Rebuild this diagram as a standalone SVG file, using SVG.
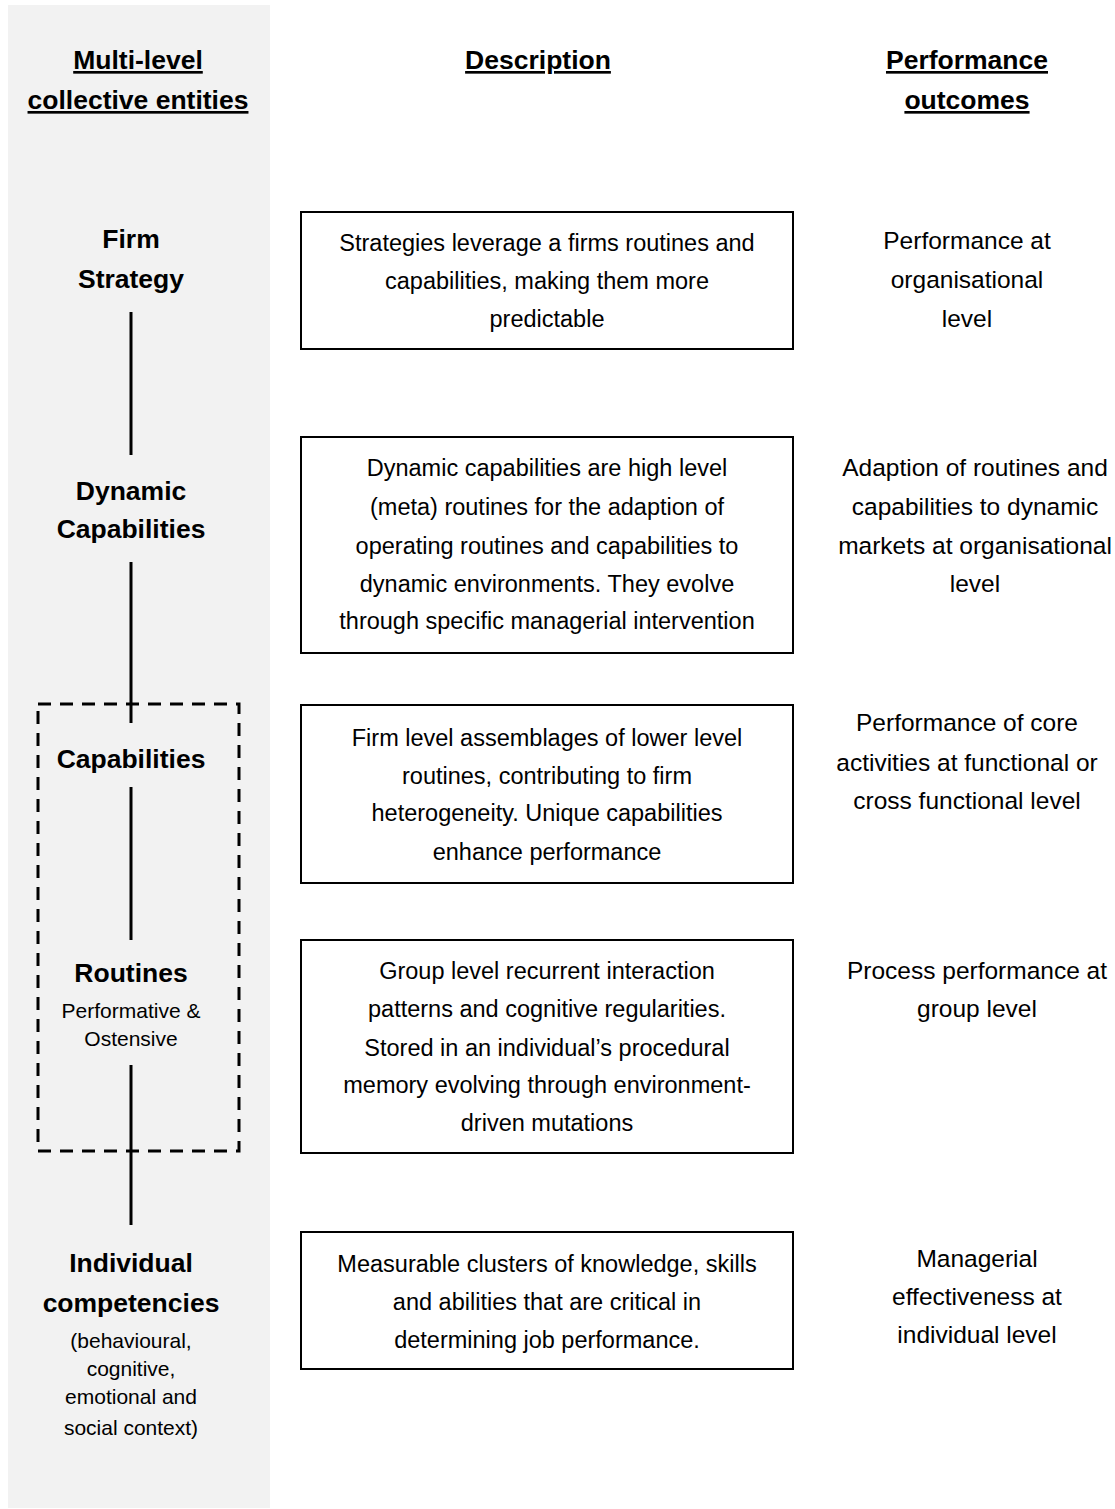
<svg xmlns="http://www.w3.org/2000/svg" width="1115" height="1509" viewBox="0 0 1115 1509">
<style>
text{font-family:"Liberation Sans",Arial,sans-serif;fill:#000;text-anchor:middle}
.h{font-size:26.5px;font-weight:bold;text-decoration:underline}
.l{font-size:26.5px;font-weight:bold}
.s{font-size:21px}
.d{font-size:23.5px}
.r{font-size:24.5px}
.box{fill:#fff;stroke:#000;stroke-width:2}
.con{stroke:#000;stroke-width:3;fill:none}
</style>
<rect x="8" y="5" width="262" height="1503" fill="#f2f2f2"/>
<g id="headers">
<text class="h" x="138" y="69">Multi-level</text>
<text class="h" x="138" y="109">collective entities</text>
<text class="h" x="538" y="69">Description</text>
<text class="h" x="967" y="69">Performance</text>
<text class="h" x="967" y="109">outcomes</text>
</g>
<g id="connectors">
<line class="con" x1="131" y1="312" x2="131" y2="455"/>
<line class="con" x1="131" y1="562" x2="131" y2="723"/>
<line class="con" x1="131" y1="787" x2="131" y2="940"/>
<line class="con" x1="131" y1="1065" x2="131" y2="1225"/>
<rect x="38" y="704" width="201" height="447" fill="none" stroke="#000" stroke-width="3" stroke-dasharray="13 9"/>
</g>
<g id="firm-strategy">
<text class="l" x="131" y="248">Firm</text>
<text class="l" x="131" y="288">Strategy</text>
<rect class="box" x="301" y="212" width="492" height="137"/>
<text class="d" x="547" y="251">Strategies leverage a firms routines and</text>
<text class="d" x="547" y="289">capabilities, making them more</text>
<text class="d" x="547" y="327">predictable</text>
<text class="r" x="967" y="249">Performance at</text>
<text class="r" x="967" y="288">organisational</text>
<text class="r" x="967" y="327">level</text>
</g>
<g id="dynamic-capabilities">
<text class="l" x="131" y="500">Dynamic</text>
<text class="l" x="131" y="538">Capabilities</text>
<rect class="box" x="301" y="437" width="492" height="216"/>
<text class="d" x="547" y="476">Dynamic capabilities are high level</text>
<text class="d" x="547" y="515">(meta) routines for the adaption of</text>
<text class="d" x="547" y="554">operating routines and capabilities to</text>
<text class="d" x="547" y="592">dynamic environments. They evolve</text>
<text class="d" x="547" y="629">through specific managerial intervention</text>
<text class="r" x="975" y="476">Adaption of routines and</text>
<text class="r" x="975" y="515">capabilities to dynamic</text>
<text class="r" x="975" y="554">markets at organisational</text>
<text class="r" x="975" y="592">level</text>
</g>
<g id="capabilities">
<text class="l" x="131" y="768">Capabilities</text>
<rect class="box" x="301" y="705" width="492" height="178"/>
<text class="d" x="547" y="746">Firm level assemblages of lower level</text>
<text class="d" x="547" y="784">routines, contributing to firm</text>
<text class="d" x="547" y="821">heterogeneity. Unique capabilities</text>
<text class="d" x="547" y="860">enhance performance</text>
<text class="r" x="967" y="731">Performance of core</text>
<text class="r" x="967" y="771">activities at functional or</text>
<text class="r" x="967" y="809">cross functional level</text>
</g>
<g id="routines">
<text class="l" x="131" y="982">Routines</text>
<text class="s" x="131" y="1018">Performative &amp;</text>
<text class="s" x="131" y="1046">Ostensive</text>
<rect class="box" x="301" y="940" width="492" height="213"/>
<text class="d" x="547" y="979">Group level recurrent interaction</text>
<text class="d" x="547" y="1017">patterns and  cognitive regularities.</text>
<text class="d" x="547" y="1056">Stored in an individual’s procedural</text>
<text class="d" x="547" y="1093">memory evolving through environment-</text>
<text class="d" x="547" y="1131">driven mutations</text>
<text class="r" x="977" y="979">Process performance at</text>
<text class="r" x="977" y="1017">group level</text>
</g>
<g id="individual-competencies">
<text class="l" x="131" y="1272">Individual</text>
<text class="l" x="131" y="1312">competencies</text>
<text class="s" x="131" y="1348">(behavioural,</text>
<text class="s" x="131" y="1376">cognitive,</text>
<text class="s" x="131" y="1404">emotional and</text>
<text class="s" x="131" y="1435">social context)</text>
<rect class="box" x="301" y="1232" width="492" height="137"/>
<text class="d" x="547" y="1272">Measurable clusters of knowledge, skills</text>
<text class="d" x="547" y="1310">and abilities that are critical in</text>
<text class="d" x="547" y="1348">determining job performance.</text>
<text class="r" x="977" y="1267">Managerial</text>
<text class="r" x="977" y="1305">effectiveness at</text>
<text class="r" x="977" y="1343">individual level</text>
</g>
</svg>
